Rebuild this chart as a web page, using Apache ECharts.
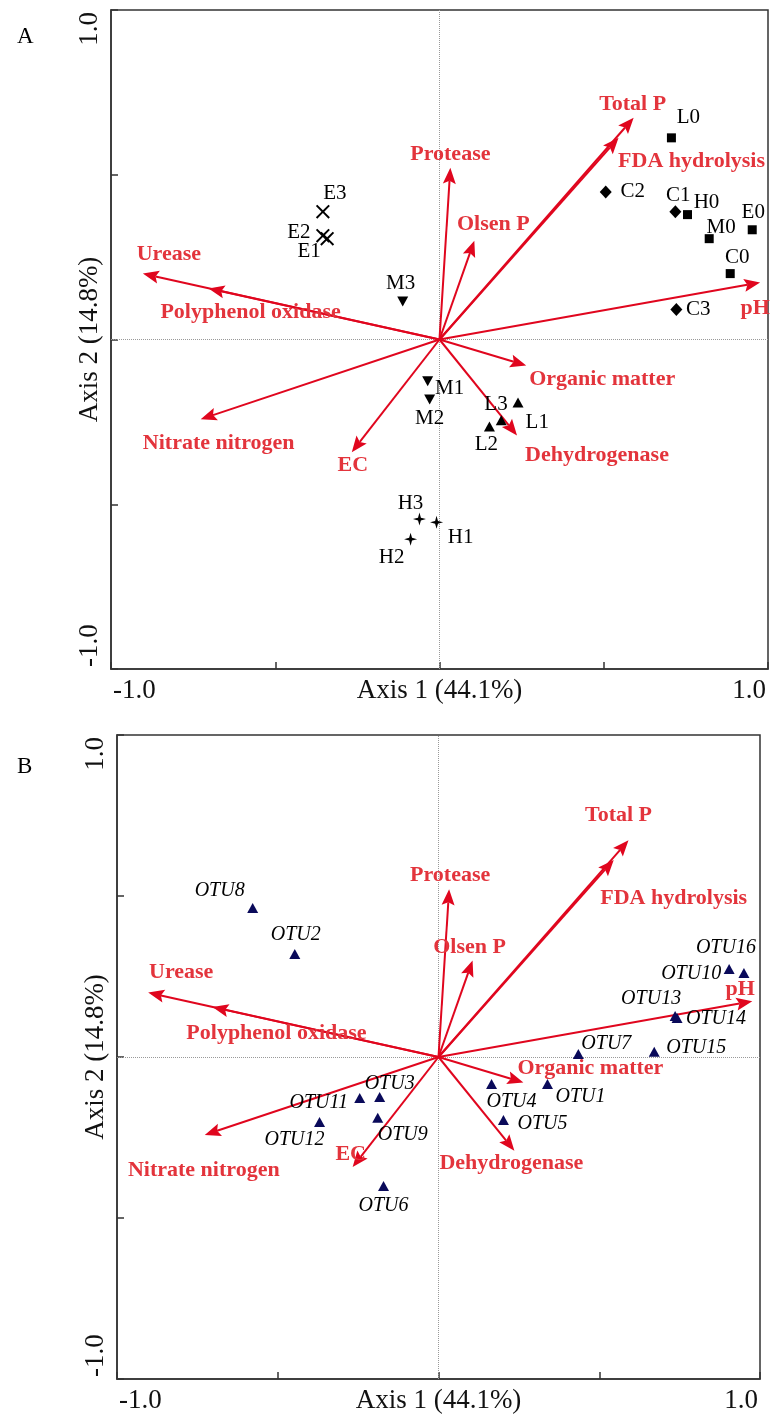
<!DOCTYPE html>
<html><head><meta charset="utf-8">
<script src="https://cdn.jsdelivr.net/npm/echarts@6/dist/echarts.min.js"></script>
<style>html,body{margin:0;padding:0;background:#fff}#c{width:773px;height:1416px}</style>
</head><body><div id="c"></div>
<script>
// ---------- DATA ----------
const envNames = ['Total P','FDA hydrolysis','pH','Protease','Olsen P','Urease','Polyphenol oxidase','Nitrate nitrogen','EC','Organic matter','Dehydrogenase'];
const envAxis1 = [0.591, 0.545, 0.976, 0.033, 0.106, -0.903, -0.703, -0.727, -0.267, 0.264, 0.236];
const envAxis2 = [0.673, 0.612, 0.173, 0.521, 0.300, 0.200, 0.155, -0.242, -0.342, -0.079, -0.291];

const sampleNames = ['L0','H0','E0','M0','C0','C1','C2','C3','E1','E2','E3','H1','H2','H3','L1','L2','L3','M1','M2','M3'];
const sampleAxis1 = [0.706, 0.755, 0.952, 0.821, 0.885, 0.718, 0.506, 0.721, -0.342, -0.355, -0.355, -0.009, -0.088, -0.061, 0.188, 0.152, 0.239, -0.036, -0.030, -0.112];
const sampleAxis2 = [0.612, 0.379, 0.333, 0.306, 0.200, 0.388, 0.448, 0.091, 0.306, 0.315, 0.388, -0.555, -0.606, -0.545, -0.245, -0.264, -0.191, -0.127, -0.182, 0.115];

const otuNames = ['OTU1','OTU2','OTU3','OTU4','OTU5','OTU6','OTU7','OTU8','OTU9','OTU10','OTU11','OTU12','OTU13','OTU14','OTU15','OTU16'];
const otuAxis1 = [0.339, -0.447, -0.183, 0.165, 0.202, -0.171, 0.435, -0.578, -0.189, 0.904, -0.245, -0.370, 0.736, 0.742, 0.671, 0.950];
const otuAxis2 = [-0.084, 0.320, -0.124, -0.084, -0.196, -0.401, 0.009, 0.463, -0.189, 0.273, -0.127, -0.202, 0.127, 0.121, 0.016, 0.261];

const tickLabels = {'-1': '-1.0', '1': '1.0'};
const axisTitles = ['Axis 1 (44.1%)', 'Axis 2 (14.8%)'];
const panelLetters = ['A', 'B'];

// ---------- LAYOUT / STYLE (label offsets in px, relative to mark) ----------
const envLabelOffA = {'Total P':[-1,-13],'FDA hydrolysis':[73,23],'pH':[-5,26],'Protease':[0,-14],'Olsen P':[19,-16],'Urease':[26,-19],'Polyphenol oxidase':[42,24],'Nitrate nitrogen':[18,24],'EC':[1,13],'Organic matter':[76,14],'Dehydrogenase':[80,20]};
const envLabelOffB = {'Total P':[-10,-25],'FDA hydrolysis':[60,38],'pH':[-12,-12],'Protease':[1,-14],'Olsen P':[-3,-13],'Urease':[33,-20],'Polyphenol oxidase':[64,26],'Nitrate nitrogen':[-1,35],'EC':[-2,-13],'Organic matter':[67,-14],'Dehydrogenase':[-3,13]};
const sampleLabelOff = {L0:[17,-20],C2:[27,0],C1:[3,-16],H0:[19,-12],E0:[1,-17],M0:[12,-11],C0:[7,-16],C3:[22,0],M3:[-2,-18],E3:[12,-18],E2:[-24,-3],E1:[-18,13],M1:[22,7],M2:[0,19],L3:[-22,2],L1:[36,2],L2:[-3,18],H3:[-9,-16],H1:[24,15],H2:[-19,18]};
const otuLabelOff = {OTU8:[-33,-17],OTU2:[1,-19],OTU16:[-18,-25],OTU10:[-38,5],OTU13:[-24,-17],OTU14:[39,1],OTU15:[42,-4],OTU7:[28,-10],OTU1:[33,13],OTU4:[20,18],OTU5:[39,4],OTU3:[10,-13],OTU11:[-41,5],OTU9:[25,17],OTU12:[-25,18],OTU6:[0,20]};

const SERIF = '"Liberation Serif","Times New Roman",serif';
const ARROW = '#e0061e';
const RED_TEXT = '#e3343c';
const TICK_FS = 27;

const grids = [
  {left: 111, top: 10, width: 657, height: 659},
  {left: 117, top: 735, width: 643, height: 644}
];

// measure tick label widths for edge alignment
const ctx = document.createElement('canvas').getContext('2d');
ctx.font = TICK_FS + 'px ' + SERIF;
const wMin = ctx.measureText(tickLabels['-1']).width;
const wMax = ctx.measureText(tickLabels['1']).width;

function axisLabelCfg(rotate) {
  return {
    show: true, margin: 8, rotate: rotate, hideOverlap: false,
    fontFamily: SERIF, fontSize: TICK_FS, color: '#111',
    formatter: v => v === -1 ? '{mn|' + tickLabels['-1'] + '}' : (v === 1 ? '{mx|' + tickLabels['1'] + '}' : ''),
    rich: {
      mn: {width: 2 * wMin + 4, align: 'right', fontFamily: SERIF, fontSize: TICK_FS, color: '#111'},
      mx: {width: 2 * wMax + 4, align: 'left', fontFamily: SERIF, fontSize: TICK_FS, color: '#111'}
    }
  };
}
function mkX(gi) {
  return {
    type: 'value', gridIndex: gi, min: -1, max: 1, interval: 0.5,
    name: axisTitles[0], nameLocation: 'middle', nameGap: 8, nameMoveOverlap: false,
    nameTextStyle: {fontFamily: SERIF, fontSize: TICK_FS, color: '#111'},
    axisLine: {show: true, onZero: false, lineStyle: {color: '#333', width: 1.5}},
    axisTick: {show: true, inside: true, length: 7, lineStyle: {color: '#333', width: 1.5}},
    axisLabel: axisLabelCfg(0),
    splitLine: {show: false}
  };
}
function mkY(gi) {
  return {
    type: 'value', gridIndex: gi, min: -1, max: 1, interval: 0.5,
    name: axisTitles[1], nameLocation: 'middle', nameGap: 8, nameRotate: 90, nameMoveOverlap: false,
    nameTextStyle: {fontFamily: SERIF, fontSize: TICK_FS, color: '#111'},
    axisLine: {show: true, onZero: false, lineStyle: {color: '#333', width: 1.5}},
    axisTick: {show: true, inside: true, length: 7, lineStyle: {color: '#333', width: 1.5}},
    axisLabel: axisLabelCfg(90),
    splitLine: {show: false}
  };
}

function zeroLines() {
  return {
    silent: true, symbol: ['none', 'none'], label: {show: false},
    lineStyle: {type: 'dotted', color: '#999', width: 1},
    emphasis: {disabled: true},
    data: [{xAxis: 0}, {yAxis: 0}]
  };
}

function arrowSeries(gi, offsets) {
  return {
    type: 'custom', xAxisIndex: gi, yAxisIndex: gi, clip: false, z: 5, silent: true,
    data: envNames.map((n, i) => [envAxis1[i], envAxis2[i], i]),
    renderItem(params, api) {
      const i = api.value(2);
      const name = envNames[i];
      const p0 = api.coord([0, 0]);
      const p1 = api.coord([api.value(0), api.value(1)]);
      const dx = p1[0] - p0[0], dy = p1[1] - p0[1];
      const len = Math.hypot(dx, dy);
      const ux = dx / len, uy = dy / len, nx = -uy, ny = ux;
      const L = 16, H = 6.5, notch = 3;
      const bx = p1[0] - ux * L, by = p1[1] - uy * L;
      const mx = p1[0] - ux * (L - notch), my = p1[1] - uy * (L - notch);
      const off = offsets[name] || [0, 0];
      return {
        type: 'group',
        children: [
          {type: 'line', shape: {x1: p0[0], y1: p0[1], x2: mx, y2: my}, style: {stroke: ARROW, lineWidth: 2}},
          {type: 'polygon', shape: {points: [[p1[0], p1[1]], [bx + nx * H, by + ny * H], [mx, my], [bx - nx * H, by - ny * H]]}, style: {fill: ARROW}},
          {type: 'text', x: p1[0] + off[0], y: p1[1] + off[1], style: {text: name, fill: RED_TEXT, fontFamily: SERIF, fontSize: 22, fontWeight: 'bold', align: 'center', verticalAlign: 'middle'}}
        ]
      };
    }
  };
}

const SYM = {
  square: {symbol: 'rect', size: 9},
  diamond: {symbol: 'diamond', size: [12, 13]},
  cross: {symbol: 'path://M0,1 L1,0 L5,4 L9,0 L10,1 L6,5 L10,9 L9,10 L5,6 L1,10 L0,9 L4,5 Z', size: 14},
  star: {symbol: 'path://M5,0 L6.1,3.9 L10,5 L6.1,6.1 L5,10 L3.9,6.1 L0,5 L3.9,3.9 Z', size: 13},
  up: {symbol: 'triangle', size: [11, 10]},
  down: {symbol: 'path://M0,0 L10,0 L5,9 Z', size: [11, 10]}
};
function markerFor(name) {
  if (name[1] === '0') return SYM.square;
  return {C: SYM.diamond, E: SYM.cross, H: SYM.star, L: SYM.up, M: SYM.down}[name[0]];
}

const sampleSeries = {
  type: 'scatter', xAxisIndex: 0, yAxisIndex: 0, z: 6, silent: true,
  data: sampleNames.map((n, i) => {
    const m = markerFor(n);
    return {
      name: n, value: [sampleAxis1[i], sampleAxis2[i]],
      symbol: m.symbol, symbolSize: m.size,
      label: {offset: sampleLabelOff[n] || [0, -15]}
    };
  }),
  itemStyle: {color: '#000', opacity: 1},
  label: {show: true, position: 'inside', formatter: p => p.name, color: '#000', opacity: 1, fontFamily: SERIF, fontSize: 21},
  markLine: zeroLines()
};

const otuSeries = {
  type: 'scatter', xAxisIndex: 1, yAxisIndex: 1, z: 6, silent: true,
  symbol: 'triangle', symbolSize: [11, 10],
  data: otuNames.map((n, i) => ({name: n, value: [otuAxis1[i], otuAxis2[i]], label: {offset: otuLabelOff[n] || [0, -15]}})),
  itemStyle: {color: '#0a0a5a', opacity: 1},
  label: {show: true, position: 'inside', formatter: p => p.name, color: '#000', opacity: 1, fontFamily: SERIF, fontSize: 20, fontStyle: 'italic'},
  markLine: zeroLines()
};

const chart = echarts.init(document.getElementById('c'), null, {renderer: 'canvas'});
chart.setOption({
  animation: false,
  backgroundColor: '#fff',
  title: [
    {text: panelLetters[0], left: 12, top: 20, textStyle: {fontFamily: SERIF, fontSize: 23, fontWeight: 'normal', color: '#000'}},
    {text: panelLetters[1], left: 12, top: 750, textStyle: {fontFamily: SERIF, fontSize: 23, fontWeight: 'normal', color: '#000'}}
  ],
  grid: grids.map(g => Object.assign({show: true, borderColor: '#333', borderWidth: 1.5, backgroundColor: 'transparent', containLabel: false}, g)),
  xAxis: [mkX(0), mkX(1)],
  yAxis: [mkY(0), mkY(1)],
  series: [sampleSeries, otuSeries, arrowSeries(0, envLabelOffA), arrowSeries(1, envLabelOffB)]
});
</script>
</body></html>
